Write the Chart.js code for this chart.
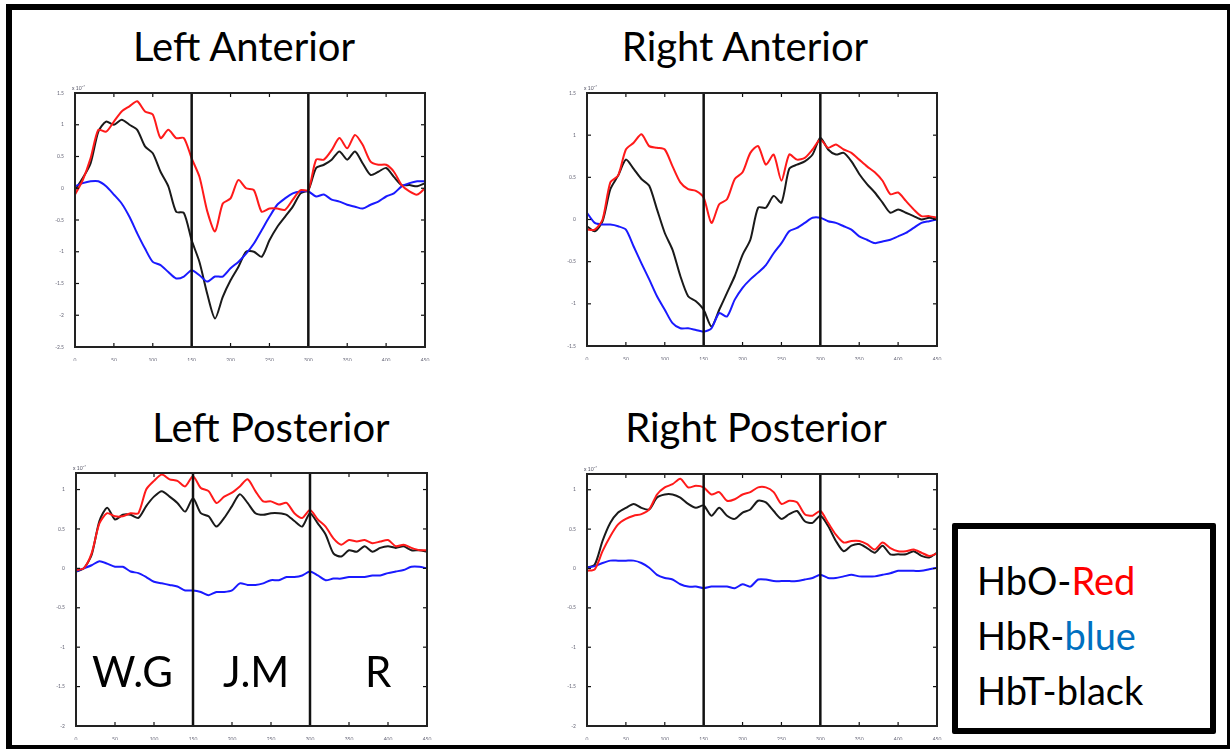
<!DOCTYPE html>
<html>
<head>
<meta charset="utf-8">
<script src="https://cdn.jsdelivr.net/npm/chart.js@4.4.0/dist/chart.umd.min.js"></script>
<style>
  body { margin: 0; width: 1230px; height: 749px; overflow: hidden; background: #fff; position: relative; font-family: Lato, sans-serif; }
  .frame { position: absolute; left: 6px; top: 4px; width: 1227px; height: 747px; border: 6px solid #000; box-sizing: border-box; }
  .title { position: absolute; width: 320px; text-align: center; font-size: 40px; line-height: 40px; color: #000; white-space: nowrap; }
  .block { position: absolute; font-size: 42px; line-height: 42px; color: #000; white-space: nowrap; }
  canvas { position: absolute; }
  .key { position: absolute; left: 952px; top: 523px; width: 264px; height: 211px; border: 6px solid #000; box-sizing: border-box; border-radius: 2px; }
  .keytext { position: absolute; left: 977px; top: 553px; font-size: 38px; line-height: 55px; color: #000; white-space: nowrap; }
</style>
</head>
<body>
<div class="frame"></div>

<div class="title" style="left:84px; top:26px;">Left Anterior</div>
<div class="title" style="left:585px; top:26px;">Right Anterior</div>
<div class="title" style="left:111px; top:407px;">Left Posterior</div>
<div class="title" style="left:596px; top:407px;">Right Posterior</div>

<canvas id="la" width="380" height="278" style="left:53px; top:83px;"></canvas>
<canvas id="ra" width="380" height="277" style="left:565px; top:83px;"></canvas>
<canvas id="lp" width="381" height="277" style="left:54px; top:463px;"></canvas>
<canvas id="rp" width="380" height="276" style="left:565px; top:464px;"></canvas>

<div class="block" style="left:92px; top:650px;">W.G</div>
<div class="block" style="left:223px; top:650px;">J.M</div>
<div class="block" style="left:365px; top:650px;">R</div>

<div class="key"></div>
<div class="keytext">HbO-<span style="color:#ff0000">Red</span><br>HbR-<span style="color:#0070c0">blue</span><br>HbT-black</div>

<script>
// time axis (samples) and block boundaries
const timePts = [0, 10, 20, 30, 40, 50, 60, 70, 80, 90, 100, 110, 120, 130, 140, 150, 160, 170, 180, 190,
  200, 210, 220, 230, 240, 250, 260, 270, 280, 290, 300, 310, 320, 330, 340, 350, 360, 370, 380, 390,
  400, 410, 420, 430, 440, 450];
const xTicks = [0, 50, 100, 150, 200, 250, 300, 350, 400, 450];
const blockEdges = [150, 300];

// tick labels (x 10^-7)
const yTicksAnt = [1.5, 1, 0.5, 0, -0.5, -1, -1.5, -2, -2.5];
const yTicksRa = [1.5, 1, 0.5, 0, -0.5, -1, -1.5];
const yTicksPost = [1, 0.5, 0, -0.5, -1, -1.5, -2];

// Left Anterior
const laHbO = [-0.1, 0.13, 0.47, 0.92, 0.89, 1.05, 1.21, 1.29, 1.37, 1.21, 1.16, 0.79, 0.92, 0.79, 0.79, 0.47, 0.18, -0.36, -0.68, -0.24,
  -0.16, 0.13, 0, -0.03, -0.37, -0.32, -0.32, -0.34, -0.18, -0.03, -0.03, 0.45, 0.45, 0.6, 0.79, 0.63, 0.84, 0.68, 0.42, 0.37,
  0.37, 0.26, 0.05, -0.05, -0.1, 0];
const laHbR = [0.03, 0.08, 0.11, 0.11, 0.03, -0.1, -0.24, -0.45, -0.71, -0.95, -1.16, -1.21, -1.32, -1.42, -1.39, -1.29, -1.37, -1.47, -1.39, -1.39,
  -1.26, -1.16, -1.03, -0.87, -0.66, -0.45, -0.26, -0.16, -0.08, -0.05, -0.05, -0.13, -0.1, -0.18, -0.21, -0.26, -0.29, -0.32, -0.26, -0.21,
  -0.13, -0.08, 0.03, 0.08, 0.11, 0.11];
const laHbT = [-0.03, 0.16, 0.39, 0.89, 1.05, 1.0, 1.08, 1.0, 0.92, 0.66, 0.55, 0.26, 0.03, -0.37, -0.39, -0.82, -1.16, -1.66, -2.05, -1.71,
  -1.45, -1.24, -1.0, -1.0, -1.08, -0.82, -0.61, -0.45, -0.29, -0.08, -0.03, 0.32, 0.37, 0.45, 0.58, 0.45, 0.58, 0.39, 0.21, 0.26,
  0.32, 0.18, 0.05, 0.05, 0.03, 0.08];

// Right Anterior
const raHbO = [-0.12, -0.12, 0, 0.44, 0.52, 0.83, 0.91, 1.01, 0.87, 0.85, 0.83, 0.63, 0.44, 0.36, 0.34, 0.26, -0.04, 0.18, 0.24, 0.48,
  0.56, 0.79, 0.87, 0.65, 0.77, 0.46, 0.77, 0.71, 0.73, 0.83, 0.95, 0.85, 0.89, 0.83, 0.79, 0.71, 0.63, 0.56, 0.46, 0.3,
  0.32, 0.22, 0.12, 0.04, 0.04, 0.02];
const raHbR = [0.08, -0.04, -0.06, -0.06, -0.08, -0.12, -0.32, -0.52, -0.71, -0.91, -1.07, -1.23, -1.29, -1.29, -1.31, -1.33, -1.29, -1.11, -1.15, -0.95,
  -0.81, -0.71, -0.63, -0.54, -0.4, -0.28, -0.14, -0.1, -0.04, 0.02, 0.02, -0.02, -0.04, -0.08, -0.12, -0.2, -0.24, -0.28, -0.26, -0.24,
  -0.2, -0.16, -0.1, -0.04, -0.02, 0];
const raHbT = [-0.08, -0.14, -0.02, 0.36, 0.52, 0.71, 0.6, 0.48, 0.4, 0.12, -0.16, -0.36, -0.67, -0.91, -0.97, -1.07, -1.27, -1.07, -0.87, -0.67,
  -0.42, -0.24, 0.14, 0.14, 0.28, 0.2, 0.6, 0.65, 0.69, 0.77, 0.97, 0.83, 0.77, 0.79, 0.69, 0.54, 0.42, 0.32, 0.2, 0.08,
  0.12, 0.08, 0.04, 0, 0.02, 0];

// Left Posterior
const lpHbO = [-0.02, 0, 0.19, 0.57, 0.7, 0.66, 0.66, 0.7, 0.7, 1.0, 1.11, 1.19, 1.13, 1.11, 1.04, 1.17, 1.02, 0.98, 0.83, 0.91,
  0.96, 1.04, 1.13, 0.98, 0.85, 0.85, 0.81, 0.83, 0.7, 0.64, 0.74, 0.62, 0.53, 0.38, 0.3, 0.36, 0.34, 0.36, 0.32, 0.34,
  0.36, 0.28, 0.3, 0.26, 0.23, 0.23];
const lpHbR = [-0.04, 0, 0.04, 0.09, 0.06, 0.02, 0.02, -0.04, -0.06, -0.11, -0.17, -0.19, -0.21, -0.23, -0.28, -0.28, -0.3, -0.34, -0.3, -0.3,
  -0.28, -0.19, -0.21, -0.21, -0.19, -0.15, -0.15, -0.11, -0.11, -0.09, -0.04, -0.09, -0.15, -0.13, -0.13, -0.11, -0.11, -0.11, -0.09, -0.09,
  -0.06, -0.04, -0.02, 0.02, 0.02, 0];
const lpHbT = [-0.04, 0, 0.17, 0.6, 0.77, 0.62, 0.68, 0.68, 0.64, 0.79, 0.91, 0.98, 0.91, 0.83, 0.72, 0.89, 0.7, 0.66, 0.53, 0.64,
  0.79, 0.94, 0.83, 0.7, 0.68, 0.7, 0.7, 0.68, 0.6, 0.53, 0.7, 0.57, 0.43, 0.19, 0.15, 0.23, 0.21, 0.28, 0.21, 0.26,
  0.28, 0.26, 0.28, 0.23, 0.23, 0.21];

// Right Posterior
const rpHbO = [-0.03, -0.01, 0.22, 0.41, 0.56, 0.63, 0.67, 0.69, 0.75, 0.94, 1.03, 1.07, 1.14, 1.03, 1.05, 1.03, 0.94, 0.97, 0.86, 0.88,
  0.94, 0.97, 1.03, 1.03, 0.97, 0.82, 0.86, 0.84, 0.69, 0.67, 0.73, 0.58, 0.43, 0.33, 0.35, 0.35, 0.31, 0.24, 0.33, 0.26,
  0.22, 0.22, 0.24, 0.2, 0.16, 0.19];
const rpHbR = [0.01, 0.03, 0.07, 0.1, 0.1, 0.1, 0.1, 0.07, 0.01, -0.08, -0.12, -0.14, -0.2, -0.23, -0.23, -0.25, -0.23, -0.23, -0.23, -0.25,
  -0.2, -0.23, -0.14, -0.14, -0.16, -0.16, -0.16, -0.16, -0.14, -0.12, -0.08, -0.12, -0.12, -0.1, -0.08, -0.1, -0.1, -0.1, -0.08, -0.06,
  -0.03, -0.03, -0.03, -0.03, -0.01, 0.01];
const rpHbT = [0.01, 0.05, 0.35, 0.58, 0.71, 0.77, 0.82, 0.77, 0.75, 0.9, 0.94, 0.94, 0.9, 0.82, 0.77, 0.8, 0.67, 0.77, 0.67, 0.63,
  0.71, 0.75, 0.86, 0.84, 0.73, 0.63, 0.69, 0.73, 0.6, 0.58, 0.67, 0.54, 0.35, 0.22, 0.29, 0.31, 0.26, 0.2, 0.29, 0.18,
  0.18, 0.18, 0.22, 0.16, 0.14, 0.2];

Chart.defaults.font.family = 'Lato';

// matlab style box: frame, inward ticks, block separators, exponent
const matlabBox = {
  id: 'matlabBox',
  afterDatasetsDraw(chart) {
    const { ctx, chartArea: a } = chart;
    const x = chart.scales.x, y = chart.scales.y;
    function seg(x1, y1, x2, y2) {
      ctx.beginPath(); ctx.moveTo(x1, y1); ctx.lineTo(x2, y2); ctx.stroke();
    }
    ctx.save();
    ctx.strokeStyle = '#111';
    ctx.lineWidth = 2.5;
    blockEdges.forEach(v => {
      const px = x.getPixelForValue(v);
      seg(px, a.top, px, a.bottom);
    });
    ctx.lineWidth = 1.2;
    x.ticks.forEach(t => {
      const px = x.getPixelForValue(t.value);
      seg(px, a.top, px, a.top + 4);
      seg(px, a.bottom, px, a.bottom - 4);
    });
    y.ticks.forEach(t => {
      const py = y.getPixelForValue(t.value);
      seg(a.left, py, a.left + 4, py);
      seg(a.right, py, a.right - 4, py);
    });
    ctx.lineWidth = 2;
    ctx.strokeStyle = '#222';
    ctx.strokeRect(a.left, a.top, a.right - a.left, a.bottom - a.top);
    ctx.fillStyle = '#556';
    ctx.font = '5px Lato';
    ctx.textAlign = 'left';
    ctx.fillText('x 10\u207B\u2077', a.left - 3, a.top - 3);
    ctx.restore();
  }
};

function makePlot(id, hbo, hbr, hbt, yMin, yMax, yTicks) {
  const ctx = document.getElementById(id).getContext('2d');
  return new Chart(ctx, {
    type: 'line',
    data: {
      labels: timePts,
      datasets: [
        { label: 'HbO', data: hbo, borderColor: '#ff1a1a' },
        { label: 'HbR', data: hbr, borderColor: '#1a1aff' },
        { label: 'HbT', data: hbt, borderColor: '#1a1a1a' }
      ]
    },
    options: {
      responsive: false,
      animation: false,
      layout: { padding: { left: 0, right: 8, top: 10, bottom: 0 } },
      elements: {
        point: { radius: 0 },
        line: { borderWidth: 2, tension: 0.25 }
      },
      plugins: {
        legend: { display: false },
        tooltip: { enabled: false }
      },
      scales: {
        x: {
          type: 'linear',
          min: 0,
          max: 450,
          afterBuildTicks: s => { s.ticks = xTicks.map(v => ({ value: v })); },
          afterFit: s => { s.height = 14; },
          ticks: { font: { size: 5 }, color: '#667', padding: 2, maxRotation: 0, autoSkip: false },
          grid: { display: false },
          border: { display: false }
        },
        y: {
          min: yMin,
          max: yMax,
          afterBuildTicks: s => { s.ticks = yTicks.map(v => ({ value: v })); },
          afterFit: s => { s.width = 22; },
          ticks: { font: { size: 5 }, color: '#667', padding: 3, autoSkip: false, callback: v => String(v) },
          grid: { display: false },
          border: { display: false }
        }
      }
    },
    plugins: [matlabBox]
  });
}

makePlot('la', laHbO, laHbR, laHbT, -2.5, 1.5, yTicksAnt);
makePlot('ra', raHbO, raHbR, raHbT, -1.5, 1.5, yTicksRa);
makePlot('lp', lpHbO, lpHbR, lpHbT, -2, 1.21, yTicksPost);
makePlot('rp', rpHbO, rpHbR, rpHbT, -2, 1.2, yTicksPost);
</script>
</body>
</html>
